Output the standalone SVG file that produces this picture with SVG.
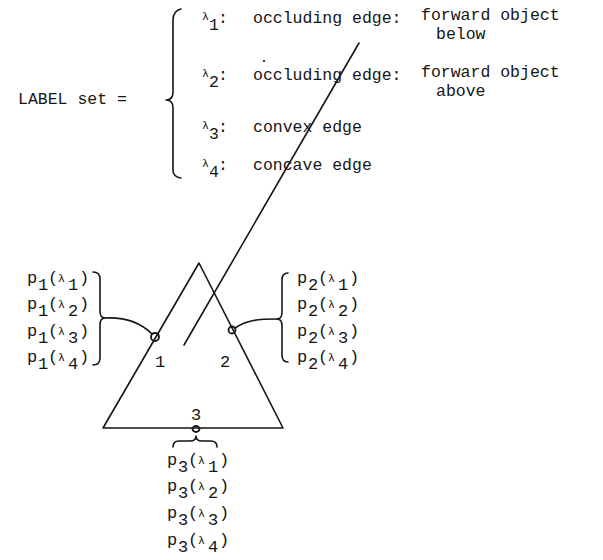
<svg xmlns="http://www.w3.org/2000/svg" width="603" height="560" viewBox="0 0 603 560">
<style>
.t{font-family:"Liberation Mono","Courier New",monospace;font-size:16.5px;fill:#151515}
.s{font-family:"Liberation Mono","Courier New",monospace;font-size:17px;fill:#151515}
.lam{font-size:11.5px}
.ln{stroke:#151515;fill:none;stroke-width:1.6;stroke-linecap:round;stroke-linejoin:round}
.pt{fill:none;stroke:#151515;stroke-width:1.8}
</style>
<rect width="603" height="560" fill="#fff"/>

<g id="label-set">
  <text class="t" x="18" y="104">LABEL set =</text>
  <path class="ln" d="M181,9 Q173,11 173,20 L173,92 Q173,100 166,100 Q173,100 173,108 L173,170 Q173,177 181,178"/>
</g>

<g id="lambda1">
  <text class="t"><tspan class="lam" x="202" y="20">λ</tspan><tspan x="209" y="30">1</tspan><tspan x="218" y="23">:</tspan><tspan x="253" y="23">occluding edge:</tspan></text>
  <text class="t" x="421" y="20">forward object</text>
  <text class="t" x="436" y="39">below</text>
</g>
<g id="lambda2">
  <text class="t"><tspan class="lam" x="202" y="77">λ</tspan><tspan x="209" y="87">2</tspan><tspan x="218" y="80">:</tspan><tspan x="253" y="80">occluding edge:</tspan></text>
  <circle cx="264" cy="61" r="1.1" fill="#151515"/>
  <text class="t" x="421" y="77">forward object</text>
  <text class="t" x="436" y="96">above</text>
</g>
<g id="lambda3">
  <text class="t"><tspan class="lam" x="202" y="129">λ</tspan><tspan x="209" y="139">3</tspan><tspan x="218" y="132">:</tspan><tspan x="253" y="132">convex edge</tspan></text>
</g>
<g id="lambda4">
  <text class="t"><tspan class="lam" x="202" y="167">λ</tspan><tspan x="209" y="177">4</tspan><tspan x="218" y="170">:</tspan><tspan x="253" y="170">concave edge</tspan></text>
</g>

<g id="triangle">
  <path class="ln" d="M199,263 L103,428 L283,428 Z"/>
</g>

<g id="node1">
  <circle class="pt" cx="155" cy="337" r="4"/>
  <text class="s" x="155" y="367">1</text>
</g>
<g id="node2">
  <circle class="pt" cx="232" cy="330" r="3.5"/>
  <text class="s" x="220" y="367">2</text>
</g>
<g id="node3">
  <ellipse class="pt" cx="196" cy="429" rx="3.5" ry="3" stroke-width="2.5"/>
  <text class="s" x="191" y="420">3</text>
</g>

<g id="p1-set">
  <text class="s"><tspan x="27" y="283">p</tspan><tspan x="38" y="290">1</tspan><tspan x="48" y="283">(</tspan><tspan class="lam" x="58" y="282">λ</tspan><tspan x="68" y="290">1</tspan><tspan x="79" y="283">)</tspan></text>
  <text class="s"><tspan x="27" y="309">p</tspan><tspan x="38" y="316">1</tspan><tspan x="48" y="309">(</tspan><tspan class="lam" x="58" y="308">λ</tspan><tspan x="68" y="316">2</tspan><tspan x="79" y="309">)</tspan></text>
  <text class="s"><tspan x="27" y="336">p</tspan><tspan x="38" y="343">1</tspan><tspan x="48" y="336">(</tspan><tspan class="lam" x="58" y="335">λ</tspan><tspan x="68" y="343">3</tspan><tspan x="79" y="336">)</tspan></text>
  <text class="s"><tspan x="27" y="362">p</tspan><tspan x="38" y="369">1</tspan><tspan x="48" y="362">(</tspan><tspan class="lam" x="58" y="361">λ</tspan><tspan x="68" y="369">4</tspan><tspan x="79" y="362">)</tspan></text>
  <path class="ln" d="M93,272 Q100,272 100,279 L100,311 Q100,318 105,318 Q100,318 100,325 L100,358 Q100,365 93,365"/>
</g>

<g id="p2-set">
  <text class="s"><tspan x="297" y="283">p</tspan><tspan x="308" y="290">2</tspan><tspan x="318" y="283">(</tspan><tspan class="lam" x="328" y="282">λ</tspan><tspan x="338" y="290">1</tspan><tspan x="349" y="283">)</tspan></text>
  <text class="s"><tspan x="297" y="309">p</tspan><tspan x="308" y="316">2</tspan><tspan x="318" y="309">(</tspan><tspan class="lam" x="328" y="308">λ</tspan><tspan x="338" y="316">2</tspan><tspan x="349" y="309">)</tspan></text>
  <text class="s"><tspan x="297" y="336">p</tspan><tspan x="308" y="343">2</tspan><tspan x="318" y="336">(</tspan><tspan class="lam" x="328" y="335">λ</tspan><tspan x="338" y="343">3</tspan><tspan x="349" y="336">)</tspan></text>
  <text class="s"><tspan x="297" y="362">p</tspan><tspan x="308" y="369">2</tspan><tspan x="318" y="362">(</tspan><tspan class="lam" x="328" y="361">λ</tspan><tspan x="338" y="369">4</tspan><tspan x="349" y="362">)</tspan></text>
  <path class="ln" d="M288,273 Q282,273 282,280 L282,312 Q282,319 277,319 Q282,319 282,326 L282,355 Q282,362 288,362"/>
</g>

<g id="p3-set">
  <text class="s"><tspan x="167" y="465">p</tspan><tspan x="178" y="472">3</tspan><tspan x="188" y="465">(</tspan><tspan class="lam" x="198" y="464">λ</tspan><tspan x="208" y="472">1</tspan><tspan x="219" y="465">)</tspan></text>
  <text class="s"><tspan x="167" y="491">p</tspan><tspan x="178" y="498">3</tspan><tspan x="188" y="491">(</tspan><tspan class="lam" x="198" y="490">λ</tspan><tspan x="208" y="498">2</tspan><tspan x="219" y="491">)</tspan></text>
  <text class="s"><tspan x="167" y="518">p</tspan><tspan x="178" y="525">3</tspan><tspan x="188" y="518">(</tspan><tspan class="lam" x="198" y="517">λ</tspan><tspan x="208" y="525">3</tspan><tspan x="219" y="518">)</tspan></text>
  <text class="s"><tspan x="167" y="545">p</tspan><tspan x="178" y="552">3</tspan><tspan x="188" y="545">(</tspan><tspan class="lam" x="198" y="544">λ</tspan><tspan x="208" y="552">4</tspan><tspan x="219" y="545">)</tspan></text>
  <path class="ln" d="M173,447 Q173,441 179,441 L190,441 Q196,441 196,436 Q196,441 202,441 L211,441 Q217,441 217,447"/>
</g>

<g id="connectors">
  <path class="ln" d="M359,43 L184,345"/>
  <path class="ln" d="M105,318 C124,317 139,321 152,334"/>
  <path class="ln" d="M277,319 C258,319 247,320 235,328"/>
</g>
</svg>
